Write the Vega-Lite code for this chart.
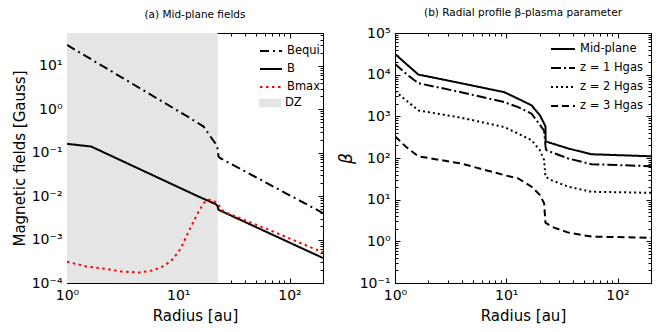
{
  "$schema": "https://vega.github.io/schema/vega-lite/v6.json",
  "padding": {"left": 11, "right": 5, "top": 7, "bottom": 5},
  "background": "white",
  "spacing": 12,
  "resolve": {
    "scale": {"color": "independent", "strokeDash": "independent", "fill": "independent"},
    "legend": {"color": "independent", "strokeDash": "independent", "fill": "independent"}
  },
  "config": {
    "font": "DejaVu Sans",
    "view": {"stroke": "black", "strokeWidth": 1},
    "axis": {
      "domain": false, "grid": false, "tickColor": "black", "tickWidth": 1,
      "labelColor": "black", "titleColor": "black", "labelFontSize": 14, "titleFontSize": 15,
      "titleFontWeight": "normal", "labelFont": "DejaVu Sans", "titleFont": "DejaVu Sans",
      "labelFlush": false, "labelOverlap": false, "labelPadding": 10
    },
    "title": {"fontSize": 10.5, "fontWeight": "normal", "font": "DejaVu Sans", "color": "black"},
    "legend": {"labelFont": "DejaVu Sans", "labelFontSize": 11.5, "labelColor": "black"}
  },
  "datasets": {
    "fields": [
      {"r": 1, "B": 30.3, "series": "Bequi"},
      {"r": 12.8, "B": 0.625, "series": "Bequi"},
      {"r": 16.9, "B": 0.40, "series": "Bequi"},
      {"r": 19.45, "B": 0.236, "series": "Bequi"},
      {"r": 21.5, "B": 0.166, "series": "Bequi"},
      {"r": 22.5, "B": 0.128, "series": "Bequi"},
      {"r": 22.8, "B": 0.100, "series": "Bequi"},
      {"r": 23.0, "B": 0.0817, "series": "Bequi"},
      {"r": 23.8, "B": 0.0752, "series": "Bequi"},
      {"r": 200, "B": 0.00407, "series": "Bequi"},
      {"r": 1, "B": 0.160, "series": "B"},
      {"r": 1.65, "B": 0.1387, "series": "B"},
      {"r": 14.5, "B": 0.01035, "series": "B"},
      {"r": 21.5, "B": 0.0066, "series": "B"},
      {"r": 22.5, "B": 0.0060, "series": "B"},
      {"r": 23.0, "B": 0.00485, "series": "B"},
      {"r": 200, "B": 0.000376, "series": "B"},
      {"r": 1, "B": 0.000309, "series": "Bmax"},
      {"r": 1.49, "B": 0.000241, "series": "Bmax"},
      {"r": 2.25, "B": 0.000210, "series": "Bmax"},
      {"r": 3.18, "B": 0.000182, "series": "Bmax"},
      {"r": 4.49, "B": 0.000175, "series": "Bmax"},
      {"r": 5.93, "B": 0.000195, "series": "Bmax"},
      {"r": 7.53, "B": 0.000250, "series": "Bmax"},
      {"r": 8.95, "B": 0.000356, "series": "Bmax"},
      {"r": 10.6, "B": 0.000638, "series": "Bmax"},
      {"r": 12.2, "B": 0.00141, "series": "Bmax"},
      {"r": 14.0, "B": 0.00286, "series": "Bmax"},
      {"r": 14.7, "B": 0.00372, "series": "Bmax"},
      {"r": 16.9, "B": 0.00692, "series": "Bmax"},
      {"r": 18.7, "B": 0.00824, "series": "Bmax"},
      {"r": 20.75, "B": 0.00794, "series": "Bmax"},
      {"r": 23.0, "B": 0.00632, "series": "Bmax"},
      {"r": 25.5, "B": 0.00444, "series": "Bmax"},
      {"r": 72, "B": 0.00151, "series": "Bmax"},
      {"r": 200, "B": 0.000506, "series": "Bmax"}
    ],
    "beta": [
      {"r": 1, "beta": 31500, "series": "Mid-plane"},
      {"r": 1.26, "beta": 18150, "series": "Mid-plane"},
      {"r": 1.62, "beta": 10070, "series": "Mid-plane"},
      {"r": 3.92, "beta": 6240, "series": "Mid-plane"},
      {"r": 9.59, "beta": 3800, "series": "Mid-plane"},
      {"r": 12.8, "beta": 2640, "series": "Mid-plane"},
      {"r": 16.9, "beta": 1830, "series": "Mid-plane"},
      {"r": 20.1, "beta": 1054, "series": "Mid-plane"},
      {"r": 21.9, "beta": 668, "series": "Mid-plane"},
      {"r": 22.5, "beta": 575, "series": "Mid-plane"},
      {"r": 22.6, "beta": 250, "series": "Mid-plane"},
      {"r": 36.1, "beta": 169, "series": "Mid-plane"},
      {"r": 58.3, "beta": 123, "series": "Mid-plane"},
      {"r": 200, "beta": 110, "series": "Mid-plane"},
      {"r": 1, "beta": 18150, "series": "z = 1 Hgas"},
      {"r": 1.26, "beta": 10470, "series": "z = 1 Hgas"},
      {"r": 1.62, "beta": 6240, "series": "z = 1 Hgas"},
      {"r": 3.92, "beta": 3800, "series": "z = 1 Hgas"},
      {"r": 9.59, "beta": 2190, "series": "z = 1 Hgas"},
      {"r": 12.8, "beta": 1670, "series": "z = 1 Hgas"},
      {"r": 16.9, "beta": 1156, "series": "z = 1 Hgas"},
      {"r": 20.75, "beta": 553, "series": "z = 1 Hgas"},
      {"r": 21.9, "beta": 450, "series": "z = 1 Hgas"},
      {"r": 22.5, "beta": 200, "series": "z = 1 Hgas"},
      {"r": 22.7, "beta": 165, "series": "z = 1 Hgas"},
      {"r": 23.0, "beta": 153, "series": "z = 1 Hgas"},
      {"r": 36.1, "beta": 97.3, "series": "z = 1 Hgas"},
      {"r": 58.3, "beta": 71.1, "series": "z = 1 Hgas"},
      {"r": 200, "beta": 63.7, "series": "z = 1 Hgas"},
      {"r": 1, "beta": 4020, "series": "z = 2 Hgas"},
      {"r": 1.62, "beta": 1387, "series": "z = 2 Hgas"},
      {"r": 3.92, "beta": 929, "series": "z = 2 Hgas"},
      {"r": 9.59, "beta": 553, "series": "z = 2 Hgas"},
      {"r": 12.8, "beta": 385, "series": "z = 2 Hgas"},
      {"r": 16.9, "beta": 266, "series": "z = 2 Hgas"},
      {"r": 20.1, "beta": 153, "series": "z = 2 Hgas"},
      {"r": 21.9, "beta": 88.5, "series": "z = 2 Hgas"},
      {"r": 22.5, "beta": 35.3, "series": "z = 2 Hgas"},
      {"r": 25.5, "beta": 29.4, "series": "z = 2 Hgas"},
      {"r": 36.1, "beta": 20.4, "series": "z = 2 Hgas"},
      {"r": 58.3, "beta": 15.5, "series": "z = 2 Hgas"},
      {"r": 200, "beta": 14.6, "series": "z = 2 Hgas"},
      {"r": 1, "beta": 332, "series": "z = 3 Hgas"},
      {"r": 1.26, "beta": 184, "series": "z = 3 Hgas"},
      {"r": 1.62, "beta": 110, "series": "z = 3 Hgas"},
      {"r": 3.92, "beta": 73.8, "series": "z = 3 Hgas"},
      {"r": 9.59, "beta": 38.8, "series": "z = 3 Hgas"},
      {"r": 12.8, "beta": 32.4, "series": "z = 3 Hgas"},
      {"r": 16.9, "beta": 20.4, "series": "z = 3 Hgas"},
      {"r": 20.1, "beta": 12.9, "series": "z = 3 Hgas"},
      {"r": 21.9, "beta": 8.17, "series": "z = 3 Hgas"},
      {"r": 22.5, "beta": 2.81, "series": "z = 3 Hgas"},
      {"r": 25.5, "beta": 2.25, "series": "z = 3 Hgas"},
      {"r": 36.1, "beta": 1.62, "series": "z = 3 Hgas"},
      {"r": 58.3, "beta": 1.30, "series": "z = 3 Hgas"},
      {"r": 200, "beta": 1.22, "series": "z = 3 Hgas"}
    ]
  },
  "hconcat": [
    {
      "width": 256, "height": 250,
      "title": {"text": "(a) Mid-plane fields", "offset": 8},
      "layer": [
        {
          "data": {"values": [{"start": 1, "end": 22.6, "zone": "DZ"}]},
          "mark": {"type": "rect"},
          "encoding": {
            "x": {"field": "start", "type": "quantitative", "scale": {"type": "log", "domain": [1, 200]}, "axis": null},
            "x2": {"field": "end"},
            "fill": {"field": "zone", "type": "nominal", "scale": {"domain": ["DZ"], "range": ["#e5e5e5"]},
              "legend": {"title": null, "orient": "none", "legendX": 192, "legendY": 59, "symbolType": "M-1,-0.4H1V0.4H-1Z", "symbolSize": 484, "symbolStrokeWidth": 0, "symbolOpacity": 1}}
          }
        },
        {
          "data": {"name": "fields"},
          "mark": {"type": "line", "clip": true, "strokeWidth": 2},
          "encoding": {
            "x": {"field": "r", "type": "quantitative", "scale": {"type": "log", "domain": [1, 200]},
              "axis": {"orient": "bottom", "title": "Radius [au]", "values": [1,2,3,4,5,6,7,8,9,10,20,30,40,50,60,70,80,90,100,200],
                "tickSize": {"condition": {"test": "abs(log(datum.value)/LN10 - round(log(datum.value)/LN10)) < 1e-6", "value": -5}, "value": -3},
                "labelExpr": "abs(log(datum.value)/LN10 - round(log(datum.value)/LN10)) < 1e-6 ? '10' + ['⁻⁴','⁻³','⁻²','⁻¹','⁰','¹','²','³','⁴','⁵'][round(log(datum.value)/LN10)+4] : ''"}},
            "y": {"field": "B", "type": "quantitative", "scale": {"type": "log", "domain": [0.0001, 57]},
              "axis": {"orient": "left", "title": "Magnetic fields [Gauss]",
                "values": [0.0001,0.0002,0.0003,0.0004,0.0005,0.0006,0.0007,0.0008,0.0009,0.001,0.002,0.003,0.004,0.005,0.006,0.007,0.008,0.009,0.01,0.02,0.03,0.04,0.05,0.06,0.07,0.08,0.09,0.1,0.2,0.3,0.4,0.5,0.6,0.7,0.8,0.9,1,2,3,4,5,6,7,8,9,10,20,30,40,50],
                "tickSize": {"condition": {"test": "abs(log(datum.value)/LN10 - round(log(datum.value)/LN10)) < 1e-6", "value": -5}, "value": -3},
                "labelExpr": "abs(log(datum.value)/LN10 - round(log(datum.value)/LN10)) < 1e-6 ? '10' + ['⁻⁴','⁻³','⁻²','⁻¹','⁰','¹','²','³','⁴','⁵'][round(log(datum.value)/LN10)+4] : ''"}},
            "color": {"field": "series", "type": "nominal", "scale": {"domain": ["Bequi", "B", "Bmax"], "range": ["black", "black", "red"]},
              "legend": {"title": null, "orient": "none", "legendX": 192, "legendY": 6, "symbolSize": 484, "symbolStrokeWidth": 2, "rowPadding": -6.5}},
            "strokeDash": {"field": "series", "type": "nominal", "scale": {"domain": ["Bequi", "B", "Bmax"], "range": [[9, 4, 2, 4], [1, 0], [2.5, 3.5]]},
              "legend": {"title": null, "orient": "none", "legendX": 192, "legendY": 6, "symbolSize": 484, "symbolStrokeWidth": 2, "rowPadding": -6.5}}
          }
        },
        {
          "data": {"name": "fields"},
          "mark": {"type": "line", "opacity": 0},
          "encoding": {
            "x": {"field": "r", "type": "quantitative", "scale": {"type": "log", "domain": [1, 200]},
              "axis": {"orient": "top", "title": null, "labels": false, "values": [1,2,3,4,5,6,7,8,9,10,20,30,40,50,60,70,80,90,100,200],
                "tickSize": {"condition": {"test": "abs(log(datum.value)/LN10 - round(log(datum.value)/LN10)) < 1e-6", "value": -5}, "value": -3}}},
            "y": {"field": "B", "type": "quantitative", "scale": {"type": "log", "domain": [0.0001, 57]},
              "axis": {"orient": "right", "title": null, "labels": false,
                "values": [0.0001,0.0002,0.0003,0.0004,0.0005,0.0006,0.0007,0.0008,0.0009,0.001,0.002,0.003,0.004,0.005,0.006,0.007,0.008,0.009,0.01,0.02,0.03,0.04,0.05,0.06,0.07,0.08,0.09,0.1,0.2,0.3,0.4,0.5,0.6,0.7,0.8,0.9,1,2,3,4,5,6,7,8,9,10,20,30,40,50],
                "tickSize": {"condition": {"test": "abs(log(datum.value)/LN10 - round(log(datum.value)/LN10)) < 1e-6", "value": -5}, "value": -3}}}
          }
        }
      ],
      "resolve": {"axis": {"x": "independent", "y": "independent"}}
    },
    {
      "width": 256, "height": 250,
      "title": {"text": "(b) Radial profile β-plasma parameter", "offset": 8},
      "layer": [
        {
          "data": {"name": "beta"},
          "mark": {"type": "line", "clip": true, "strokeWidth": 2, "color": "black"},
          "encoding": {
            "x": {"field": "r", "type": "quantitative", "scale": {"type": "log", "domain": [1, 200]},
              "axis": {"orient": "bottom", "title": "Radius [au]", "values": [1,2,3,4,5,6,7,8,9,10,20,30,40,50,60,70,80,90,100,200],
                "tickSize": {"condition": {"test": "abs(log(datum.value)/LN10 - round(log(datum.value)/LN10)) < 1e-6", "value": -5}, "value": -3},
                "labelExpr": "abs(log(datum.value)/LN10 - round(log(datum.value)/LN10)) < 1e-6 ? '10' + ['⁻⁴','⁻³','⁻²','⁻¹','⁰','¹','²','³','⁴','⁵'][round(log(datum.value)/LN10)+4] : ''"}},
            "y": {"field": "beta", "type": "quantitative", "scale": {"type": "log", "domain": [0.1, 100000]},
              "axis": {"orient": "left", "title": "β", "titleFontStyle": "italic", "titleFontSize": 17,
                "values": [0.1,0.2,0.3,0.4,0.5,0.6,0.7,0.8,0.9,1,2,3,4,5,6,7,8,9,10,20,30,40,50,60,70,80,90,100,200,300,400,500,600,700,800,900,1000,2000,3000,4000,5000,6000,7000,8000,9000,10000,20000,30000,40000,50000,60000,70000,80000,90000,100000],
                "tickSize": {"condition": {"test": "abs(log(datum.value)/LN10 - round(log(datum.value)/LN10)) < 1e-6", "value": -5}, "value": -3},
                "labelExpr": "abs(log(datum.value)/LN10 - round(log(datum.value)/LN10)) < 1e-6 ? '10' + ['⁻⁴','⁻³','⁻²','⁻¹','⁰','¹','²','³','⁴','⁵'][round(log(datum.value)/LN10)+4] : ''"}},
            "strokeDash": {"field": "series", "type": "nominal", "scale": {"domain": ["Mid-plane", "z = 1 Hgas", "z = 2 Hgas", "z = 3 Hgas"], "range": [[1, 0], [10, 3, 2, 3], [2, 3], [7, 4]]},
              "legend": {"title": null, "orient": "none", "legendX": 155, "legendY": 3, "symbolSize": 576, "symbolStrokeWidth": 2, "symbolStrokeColor": "black", "rowPadding": -5.5}}
          }
        },
        {
          "data": {"name": "beta"},
          "mark": {"type": "line", "opacity": 0},
          "encoding": {
            "x": {"field": "r", "type": "quantitative", "scale": {"type": "log", "domain": [1, 200]},
              "axis": {"orient": "top", "title": null, "labels": false, "values": [1,2,3,4,5,6,7,8,9,10,20,30,40,50,60,70,80,90,100,200],
                "tickSize": {"condition": {"test": "abs(log(datum.value)/LN10 - round(log(datum.value)/LN10)) < 1e-6", "value": -5}, "value": -3}}},
            "y": {"field": "beta", "type": "quantitative", "scale": {"type": "log", "domain": [0.1, 100000]},
              "axis": {"orient": "right", "title": null, "labels": false,
                "values": [0.1,0.2,0.3,0.4,0.5,0.6,0.7,0.8,0.9,1,2,3,4,5,6,7,8,9,10,20,30,40,50,60,70,80,90,100,200,300,400,500,600,700,800,900,1000,2000,3000,4000,5000,6000,7000,8000,9000,10000,20000,30000,40000,50000,60000,70000,80000,90000,100000],
                "tickSize": {"condition": {"test": "abs(log(datum.value)/LN10 - round(log(datum.value)/LN10)) < 1e-6", "value": -5}, "value": -3}}}
          }
        }
      ],
      "resolve": {"axis": {"x": "independent", "y": "independent"}}
    }
  ]
}
